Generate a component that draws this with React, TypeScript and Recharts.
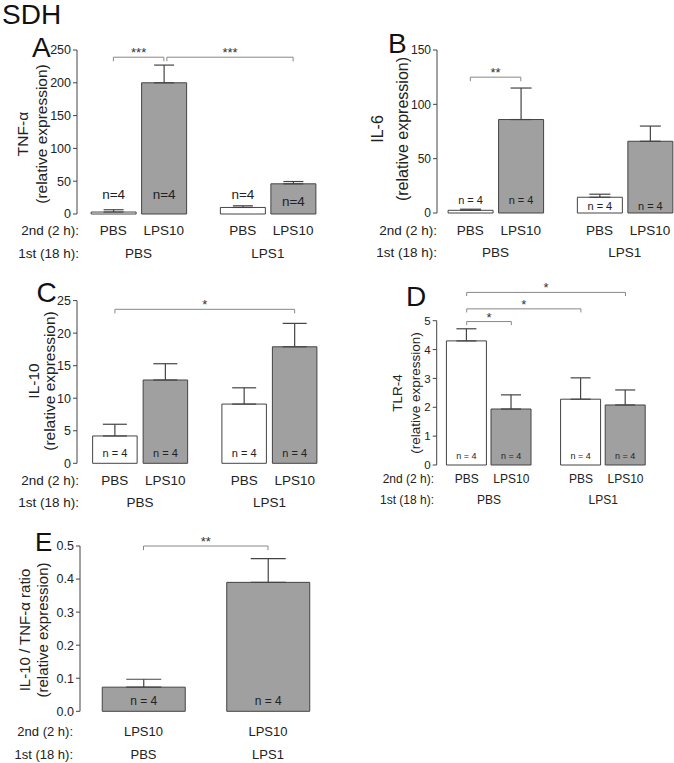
import React from 'react'
import { BarChart, Bar, XAxis, YAxis, ErrorBar, Cell, LabelList, ReferenceLine } from 'recharts'

// x-axis categories
const secondTreatment = ['PBS', 'LPS10', 'PBS', 'LPS10']
const firstTreatment = ['PBS', 'LPS1']
const ratioSecond = ['LPS10', 'LPS10']
const ratioFirst = ['PBS', 'LPS1']

// mean ± SEM (n = 4 per group)
const tnfMean = [3, 200, 10, 46]
const tnfSem = [3.5, 27, 2.5, 3.5]
const il6Mean = [2.5, 86, 14.5, 66]
const il6Sem = [1, 29, 2.8, 14]
const il10Mean = [4.2, 12.8, 9.1, 17.9]
const il10Sem = [1.8, 2.5, 2.5, 3.6]
const tlr4Mean = [4.3, 1.94, 2.28, 2.08]
const tlr4Sem = [0.42, 0.49, 0.74, 0.52]
const ratioMean = [0.073, 0.39]
const ratioSem = [0.024, 0.072]
const nAnimals = [4, 4, 4, 4]

// significance brackets (bar indexes, height in axis units)
type Sig = { from: number; to: number; y: number; text: string }
const tnfSig: Sig[] = [
  { from: 0, to: 1, y: 239, text: '***' },
  { from: 1, to: 3, y: 239, text: '***' },
]
const il6Sig: Sig[] = [{ from: 0, to: 1, y: 125, text: '**' }]
const il10Sig: Sig[] = [{ from: 0, to: 3, y: 23.66, text: '*' }]
const tlr4Sig: Sig[] = [
  { from: 0, to: 1, y: 4.97, text: '*' },
  { from: 0, to: 2, y: 5.41, text: '*' },
  { from: 0, to: 3, y: 5.98, text: '*' },
]
const ratioSig: Sig[] = [{ from: 0, to: 1, y: 0.5, text: '**' }]

const GRAY = '#a0a0a0'
const WHITE = '#ffffff'
const INK = '#222'
const AXIS = '#444'
const GROUP_GAP = 0.56

interface PanelSpec {
  left: number
  top: number
  width: number
  height: number
  axisX: number
  plotTop: number
  plotBottom: number
  plotRight: number
  unit: number
  xMin: number
  yMax: number
  yTicks: number[]
  yFmt?: (v: number) => string
  second: string[]
  first: string[]
  means: number[]
  sems: number[]
  fills: string[]
  nText: string
  nLift: number[]
  sig: Sig[]
  barSize: number
  capHalf: number
  tickFont: number
  catFont: number
  nFont: number
  rowOffset: number
  row1Y: number
  row2Y: number
  grouped: boolean
}

function nearest(xs: number[], v: number) {
  let best = 0
  xs.forEach((x, i) => {
    if (Math.abs(x - v) < Math.abs(xs[best] - v)) best = i
  })
  return best
}

function Panel({ s }: { s: PanelSpec }) {
  const xs = s.means.map((_, i) => (s.grouped ? i + (i >= 2 ? GROUP_GAP : 0) : i))
  const groupXs = s.grouped ? [(xs[0] + xs[1]) / 2, (xs[2] + xs[3]) / 2] : xs
  const rows = s.means.map((m, i) => ({
    x: xs[i],
    v: m,
    err: [0, s.sems[i]],
    n: nAnimals[i],
  }))

  const yAxisW = 40
  const h1 = 2 * (s.row1Y - s.plotBottom)
  const h2 = 2 * (s.row2Y - s.plotBottom - h1)
  const margin = {
    top: s.plotTop - s.top,
    left: s.axisX - s.left - yAxisW,
    right: s.width - (s.plotRight - s.left),
    bottom: s.height - (s.plotBottom - s.top) - h1 - h2,
  }
  const xMax = s.xMin + (s.plotRight - s.axisX) / s.unit
  const leg = s.yMax * 0.025

  const nContent = (p: any) => {
    const vb = p.viewBox && p.viewBox.width != null ? p.viewBox : p
    const cx = vb.x + vb.width / 2
    const base = vb.y + vb.height
    return (
      <text x={cx} y={base - s.nLift[p.index]} dy="0.35em" textAnchor="middle" fontSize={s.nFont} fill={INK}>
        {s.nText}
      </text>
    )
  }

  return (
    <div style={{ position: 'absolute', left: s.left, top: s.top }}>
      <BarChart width={s.width} height={s.height} data={rows} margin={margin}>
        <XAxis
          type="number"
          dataKey="x"
          domain={[s.xMin, xMax]}
          ticks={xs}
          interval={0}
          tickFormatter={(v: number) => s.second[nearest(xs, v)]}
          axisLine={false}
          tickLine={false}
          tickSize={0}
          tickMargin={s.row1Y - s.plotBottom - 0.352 * s.catFont}
          height={h1}
          tick={{ fontSize: s.catFont, fill: INK }}
          label={{ value: '2nd (2 h):', position: 'left', offset: s.rowOffset, fontSize: s.catFont, fill: INK }}
        />
        <XAxis
          xAxisId="grp"
          type="number"
          dataKey="x"
          domain={[s.xMin, xMax]}
          ticks={groupXs}
          interval={0}
          tickFormatter={(v: number) => s.first[nearest(groupXs, v)]}
          axisLine={false}
          tickLine={false}
          tickSize={0}
          tickMargin={s.row2Y - s.plotBottom - h1 - 0.352 * s.catFont}
          height={h2}
          tick={{ fontSize: s.catFont, fill: INK }}
          label={{ value: '1st (18 h):', position: 'left', offset: s.rowOffset, fontSize: s.catFont, fill: INK }}
        />
        <YAxis
          type="number"
          domain={[0, s.yMax]}
          ticks={s.yTicks}
          interval={0}
          width={yAxisW}
          tickFormatter={s.yFmt}
          stroke={AXIS}
          tickSize={4}
          tickMargin={2}
          tick={{ fontSize: s.tickFont, fill: INK }}
        />
        <Bar dataKey="v" barSize={s.barSize} stroke={AXIS} strokeWidth={1} isAnimationActive={false}>
          {rows.map((_, i) => (
            <Cell key={i} fill={s.fills[i]} />
          ))}
          <ErrorBar dataKey="err" width={s.capHalf} stroke={AXIS} strokeWidth={1.2} direction="y" />
          <LabelList dataKey="n" content={nContent} />
        </Bar>
        {s.sig.flatMap((b, k) => {
          const nudge = s.sig.some((o, j) => j < k && o.to === b.from) ? 0.06 : 0
          const x1 = xs[b.from] + nudge
          const x2 = xs[b.to]
          const line = { stroke: '#888', strokeWidth: 1, ifOverflow: 'visible' as const }
          return [
            <ReferenceLine
              key={`h${k}`}
              segment={[{ x: x1, y: b.y }, { x: x2, y: b.y }]}
              {...line}
              label={{ value: b.text, position: 'top', offset: 0, fontSize: 13, fill: '#333' }}
            />,
            <ReferenceLine key={`a${k}`} segment={[{ x: x1, y: b.y }, { x: x1, y: b.y - leg }]} {...line} />,
            <ReferenceLine key={`b${k}`} segment={[{ x: x2, y: b.y }, { x: x2, y: b.y - leg }]} {...line} />,
          ]
        })}
      </BarChart>
    </div>
  )
}

const panels: PanelSpec[] = [
  {
    left: 0, top: 0, width: 340, height: 265,
    axisX: 77, plotTop: 50, plotBottom: 214, plotRight: 330, unit: 50.5, xMin: -0.72,
    yMax: 250, yTicks: [0, 50, 100, 150, 200, 250],
    second: secondTreatment, first: firstTreatment, means: tnfMean, sems: tnfSem,
    fills: [WHITE, GRAY, WHITE, GRAY], nText: 'n=4', nLift: [20, 20, 20, 13], sig: tnfSig,
    barSize: 45, capHalf: 10, tickFont: 12.5, catFont: 13.5, nFont: 13.5, rowOffset: -2,
    row1Y: 230, row2Y: 253, grouped: true,
  },
  {
    left: 340, top: 0, width: 345, height: 265,
    axisX: 437, plotTop: 50, plotBottom: 213, plotRight: 676, unit: 50.5, xMin: -0.66,
    yMax: 150, yTicks: [0, 50, 100, 150],
    second: secondTreatment, first: firstTreatment, means: il6Mean, sems: il6Sem,
    fills: [WHITE, GRAY, WHITE, GRAY], nText: 'n = 4', nLift: [13, 12.5, 7, 7], sig: il6Sig,
    barSize: 45, capHalf: 10.5, tickFont: 12, catFont: 13.5, nFont: 11, rowOffset: 0,
    row1Y: 230, row2Y: 252, grouped: true,
  },
  {
    left: 0, top: 270, width: 340, height: 245,
    axisX: 77, plotTop: 300.6, plotBottom: 463.3, plotRight: 330, unit: 50.5, xMin: -0.75,
    yMax: 25, yTicks: [0, 5, 10, 15, 20, 25],
    second: secondTreatment, first: firstTreatment, means: il10Mean, sems: il10Sem,
    fills: [WHITE, GRAY, WHITE, GRAY], nText: 'n = 4', nLift: [10, 10, 10, 10], sig: il10Sig,
    barSize: 44.5, capHalf: 12, tickFont: 12.5, catFont: 13.5, nFont: 11, rowOffset: -2,
    row1Y: 480, row2Y: 502, grouped: true,
  },
  {
    left: 340, top: 270, width: 334, height: 245,
    axisX: 436.7, plotTop: 320.7, plotBottom: 465, plotRight: 660, unit: 44.6, xMin: -0.673,
    yMax: 5, yTicks: [0, 1, 2, 3, 4, 5],
    second: secondTreatment, first: firstTreatment, means: tlr4Mean, sems: tlr4Sem,
    fills: [WHITE, GRAY, WHITE, GRAY], nText: 'n = 4', nLift: [9, 9, 9, 9], sig: tlr4Sig,
    barSize: 40, capHalf: 10, tickFont: 11.5, catFont: 12, nFont: 9, rowOffset: 2.7,
    row1Y: 479, row2Y: 500, grouped: true,
  },
  {
    left: 0, top: 515, width: 340, height: 248,
    axisX: 80, plotTop: 546, plotBottom: 711.3, plotRight: 330, unit: 124.5, xMin: -0.51,
    yMax: 0.5, yTicks: [0, 0.1, 0.2, 0.3, 0.4, 0.5], yFmt: (v: number) => v.toFixed(1),
    second: ratioSecond, first: ratioFirst, means: ratioMean, sems: ratioSem,
    fills: [GRAY, GRAY], nText: 'n = 4', nLift: [11, 11], sig: ratioSig,
    barSize: 83, capHalf: 17.5, tickFont: 12.5, catFont: 13, nFont: 12, rowOffset: 7,
    row1Y: 731.7, row2Y: 754, grouped: false,
  },
]

// panel letters and rotated y-axis titles
const letters = [
  { t: 'A', x: 32, y: 34.3, f: 28 },
  { t: 'B', x: 388, y: 30.3, f: 28 },
  { t: 'C', x: 36.5, y: 279.3, f: 28 },
  { t: 'D', x: 406, y: 283.3, f: 28 },
  { t: 'E', x: 35, y: 529, f: 26 },
]

const yTitles = [
  { lines: ['TNF-α', '(relative expression)'], xs: [23, 42], cy: 134, f: 15.5 },
  { lines: ['IL-6', '(relative expression)'], xs: [378, 403], cy: 129, f: 16 },
  { lines: ['IL-10', '(relative expression)'], xs: [34, 50], cy: 381, f: 15.5 },
  { lines: ['TLR-4', '(relative expression)'], xs: [398, 416], cy: 393, f: 13.5 },
  { lines: ['IL-10 / TNF-α ratio', '(relative expression)'], xs: [25, 43], cy: 630, f: 15 },
]

export default function App() {
  return (
    <div
      style={{
        position: 'absolute',
        left: 0,
        top: 0,
        width: 674,
        height: 763,
        overflow: 'hidden',
        background: '#fff',
        fontFamily: '"Liberation Sans", Arial, sans-serif',
        color: INK,
      }}
    >
      {panels.map((p, i) => (
        <Panel key={i} s={p} />
      ))}
      <div style={{ position: 'absolute', left: 2, top: 0, fontSize: 28, lineHeight: '30px', color: '#111' }}>SDH</div>
      {letters.map((l) => (
        <div key={l.t} style={{ position: 'absolute', left: l.x, top: l.y, fontSize: l.f, lineHeight: `${l.f}px`, color: '#111' }}>
          {l.t}
        </div>
      ))}
      {yTitles.map((yt, i) =>
        yt.lines.map((line, j) => (
          <div
            key={`${i}-${j}`}
            style={{
              position: 'absolute',
              left: yt.xs[j],
              top: yt.cy,
              transform: 'translate(-50%, -50%) rotate(-90deg)',
              whiteSpace: 'nowrap',
              fontSize: yt.f,
              lineHeight: 1.1,
            }}
          >
            {line}
          </div>
        ))
      )}
    </div>
  )
}
